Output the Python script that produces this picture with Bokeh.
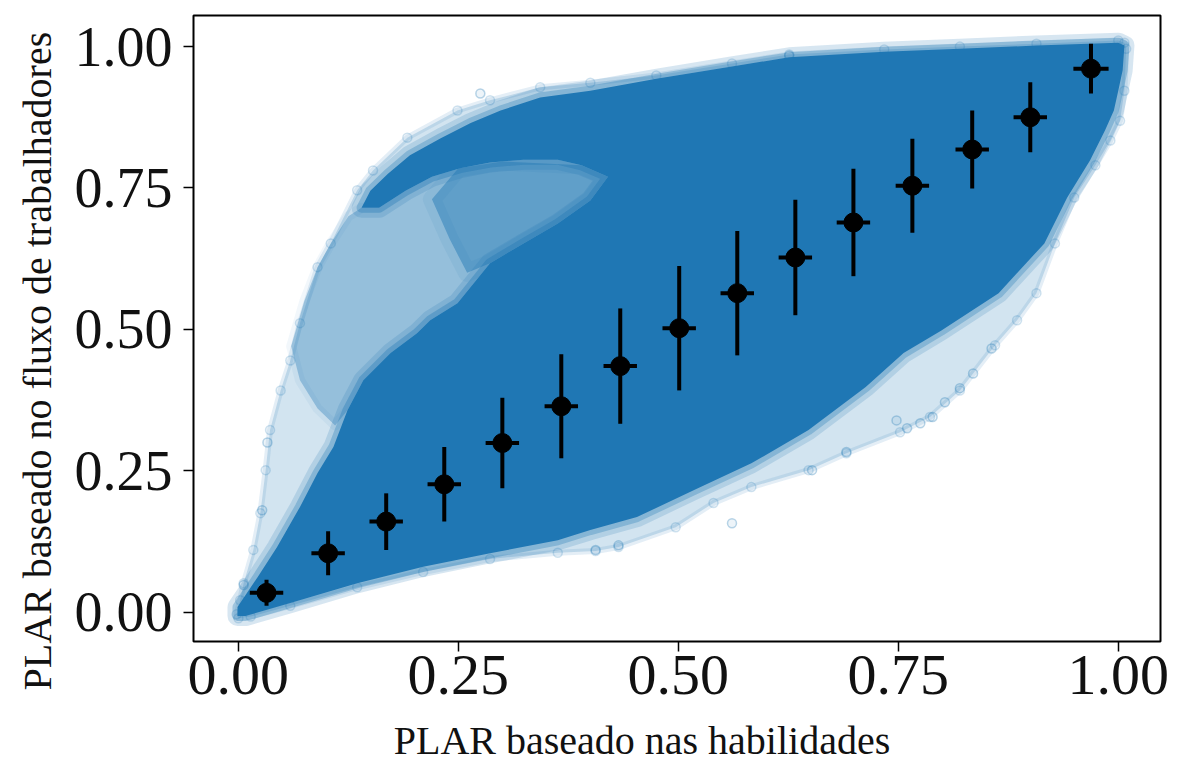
import numpy as np
from bokeh.plotting import figure
from bokeh.models import Range1d, FixedTicker, NumeralTickFormatter, Title
from bokeh.embed import file_html
from bokeh.resources import INLINE

# ---- binned means (black points with error bars) ----
bin_x = [0.032, 0.102, 0.168, 0.234, 0.300, 0.367, 0.434, 0.501,
         0.567, 0.633, 0.699, 0.766, 0.834, 0.900, 0.969]
bin_y = [0.034, 0.104, 0.160, 0.226, 0.299, 0.364, 0.435, 0.502,
         0.564, 0.627, 0.689, 0.754, 0.818, 0.875, 0.961]
bin_xerr = [0.019, 0.019, 0.019, 0.019, 0.019, 0.019, 0.019, 0.019,
            0.019, 0.019, 0.019, 0.019, 0.019, 0.019, 0.020]
bin_yerr = [0.023, 0.039, 0.050, 0.066, 0.080, 0.092, 0.102, 0.110,
            0.110, 0.102, 0.095, 0.083, 0.069, 0.062, 0.044]

# ---- point cloud, read as outlines of its density regions ----
outer_x = [-0.002, 0.002, 0.006, 0.017, 0.025, 0.031, 0.036, 0.048, 0.059, 0.070,
           0.090, 0.105, 0.135, 0.153, 0.192, 0.249, 0.286, 0.343, 0.400, 0.475,
           0.561, 0.626, 0.734, 0.820, 0.907, 1.000, 1.007, 1.009, 1.007, 1.002,
           0.991, 0.974, 0.950, 0.928, 0.907, 0.885, 0.860, 0.820, 0.786, 0.752,
           0.691, 0.648, 0.583, 0.540, 0.497, 0.432, 0.406, 0.363, 0.286, 0.210,
           0.135, 0.059, 0.014, 0.000]
outer_y = [-0.004, 0.021, 0.051, 0.110, 0.175, 0.251, 0.322, 0.392, 0.445, 0.511,
           0.610, 0.652, 0.746, 0.781, 0.839, 0.887, 0.905, 0.928, 0.936, 0.949,
           0.970, 0.986, 0.995, 1.000, 1.005, 1.011, 1.007, 0.996, 0.922, 0.869,
           0.834, 0.790, 0.733, 0.652, 0.564, 0.516, 0.472, 0.392, 0.345, 0.318,
           0.281, 0.251, 0.221, 0.193, 0.150, 0.115, 0.108, 0.105, 0.094, 0.071,
           0.044, 0.011, -0.008, -0.011]

fan_x = [0.060, 0.075, 0.090, 0.105, 0.125, 0.140, 0.160, 0.190, 0.220, 0.252,
         0.286, 0.324, 0.363, 0.390, 0.420, 0.400, 0.363, 0.324, 0.286, 0.249,
         0.218, 0.203, 0.173, 0.142, 0.124, 0.110, 0.090, 0.070]
fan_y = [0.470, 0.550, 0.610, 0.652, 0.700, 0.715, 0.715, 0.745, 0.770, 0.785,
         0.795, 0.800, 0.800, 0.790, 0.770, 0.728, 0.687, 0.652, 0.617, 0.546,
         0.516, 0.493, 0.458, 0.410, 0.357, 0.330, 0.360, 0.410]

fan_core_x = [0.250, 0.300, 0.390, 0.420, 0.400, 0.363, 0.324, 0.286, 0.260,
              0.240, 0.220]
fan_core_y = [0.785, 0.797, 0.790, 0.770, 0.728, 0.687, 0.652, 0.617, 0.600,
              0.660, 0.730]

solid_x = [-0.001, -0.001, 0.022, 0.044, 0.070, 0.090, 0.108, 0.124, 0.142, 0.173,
           0.203, 0.218, 0.249, 0.286, 0.324, 0.363, 0.400, 0.420, 0.390, 0.363,
           0.324, 0.286, 0.252, 0.220, 0.190, 0.160, 0.140, 0.150, 0.170, 0.195,
           0.230, 0.264, 0.298, 0.343, 0.400, 0.475, 0.561, 0.626, 0.734, 0.820,
           0.907, 1.000, 1.007, 1.005, 1.000, 0.995, 0.985, 0.968, 0.942, 0.916,
           0.864, 0.799, 0.756, 0.713, 0.648, 0.583, 0.518, 0.453, 0.400, 0.363,
           0.286, 0.210, 0.135, 0.059, 0.008]
solid_y = [-0.007, 0.009, 0.062, 0.115, 0.186, 0.246, 0.292, 0.357, 0.410, 0.458,
           0.493, 0.516, 0.546, 0.617, 0.652, 0.687, 0.728, 0.770, 0.790, 0.800,
           0.800, 0.795, 0.785, 0.770, 0.745, 0.715, 0.715, 0.745, 0.775, 0.808,
           0.838, 0.865, 0.887, 0.910, 0.922, 0.943, 0.965, 0.981, 0.991, 0.996,
           1.002, 1.007, 1.002, 0.958, 0.922, 0.887, 0.852, 0.799, 0.733, 0.652,
           0.564, 0.498, 0.458, 0.398, 0.322, 0.263, 0.216, 0.168, 0.145, 0.127,
           0.104, 0.080, 0.051, 0.016, -0.007]

# isolated circles at the rim of the cloud
stray_x = [0.561, 0.748, 0.760, 0.775, 0.789, 0.803, 0.820, 0.835, 0.856, 0.691,
           0.652, 0.432, 0.406, 0.275, 0.006, 0.033, 0.027, 0.626]
stray_y = [0.157, 0.339, 0.325, 0.334, 0.345, 0.371, 0.396, 0.422, 0.466, 0.283,
           0.251, 0.118, 0.110, 0.917, 0.048, 0.300, 0.180, 0.984]

ticks = [0.0, 0.25, 0.5, 0.75, 1.0]
x_label = "PLAR baseado nas habilidades"
y_label = "PLAR baseado no fluxo de trabalhadores"

BLUE = "#1f77b4"
FONT = "Liberation Serif"
NBSP = "\u00a0"

p = figure(width=1172, height=768, output_backend="svg", toolbar_location=None,
           x_range=Range1d(-0.051, 1.048), y_range=Range1d(-0.052, 1.055),
           min_border_left=193, min_border_right=12, min_border_top=15,
           min_border_bottom=127)
p.background_fill_color = "white"
p.border_fill_color = "white"
p.xgrid.visible = False
p.ygrid.visible = False
p.outline_line_color = "black"
p.outline_line_width = 2
p.outline_line_alpha = 1.0

# cloud
p.patch(outer_x, outer_y, fill_color=BLUE, fill_alpha=0.2,
        line_color=BLUE, line_alpha=0.12, line_width=6, line_join="round")
p.scatter(outer_x, outer_y, size=9, fill_color=BLUE, fill_alpha=0.06,
          line_color=BLUE, line_alpha=0.2, line_width=1.5)
p.scatter(stray_x, stray_y, size=9, fill_color=BLUE, fill_alpha=0.08,
          line_color=BLUE, line_alpha=0.3, line_width=1.5)
p.patch(fan_x, fan_y, fill_color=BLUE, fill_alpha=0.34, line_color=BLUE,
        line_alpha=0.06, line_width=10, line_join="round")
p.patch(fan_core_x, fan_core_y, fill_color=BLUE, fill_alpha=0.45, line_color=BLUE,
        line_alpha=0.08, line_width=18, line_join="round")
p.patch(solid_x, solid_y, fill_color=None, line_color=BLUE, line_alpha=0.18,
        line_width=20, line_join="round")
p.patch(solid_x, solid_y, fill_color=None, line_color=BLUE, line_alpha=0.3,
        line_width=10, line_join="round")
p.patch(solid_x, solid_y, fill_color=BLUE, fill_alpha=1.0, line_color=None)

# binned means with error bars
bx = np.array(bin_x)
by = np.array(bin_y)
bxe = np.array(bin_xerr)
bye = np.array(bin_yerr)
p.segment(x0=bx, y0=by - bye, x1=bx, y1=by + bye, line_color="black", line_width=4)
p.segment(x0=bx - bxe, y0=by, x1=bx + bxe, y1=by, line_color="black", line_width=4)
p.scatter(bx, by, size=19, fill_color="black", line_color="black")

# axes
for ax in (p.xaxis, p.yaxis):
    ax.ticker = FixedTicker(ticks=ticks)
    ax.formatter = NumeralTickFormatter(format="0.00")
    ax.major_label_text_font = FONT
    ax.major_label_text_color = "#111111"
    ax.major_tick_in = 0
    ax.major_tick_out = 10
    ax.major_tick_line_width = 1.5
    ax.major_tick_line_color = "black"
    ax.minor_tick_line_color = None
    ax.axis_line_color = None
    ax.axis_label_text_font = FONT
    ax.axis_label_text_font_size = "40px"
    ax.axis_label_text_font_style = "normal"
    ax.axis_label_text_color = "#111111"
p.xaxis.major_label_text_font_size = "58px"
p.yaxis.major_label_text_font_size = "56px"
p.xaxis.major_label_standoff = 4
p.yaxis.major_label_standoff = 11
p.xaxis.axis_label = x_label + NBSP * 7
p.xaxis.axis_label_standoff = 21

# y label as a side title, so it can run past the bottom of the frame as in the original
p.add_layout(Title(text=y_label, align="left", offset=-49, standoff=24,
                   vertical_align="bottom", text_font=FONT, text_font_size="40px",
                   text_font_style="normal", text_color="#111111"), "left")

open("out.html", "w").write(file_html(p, INLINE))
